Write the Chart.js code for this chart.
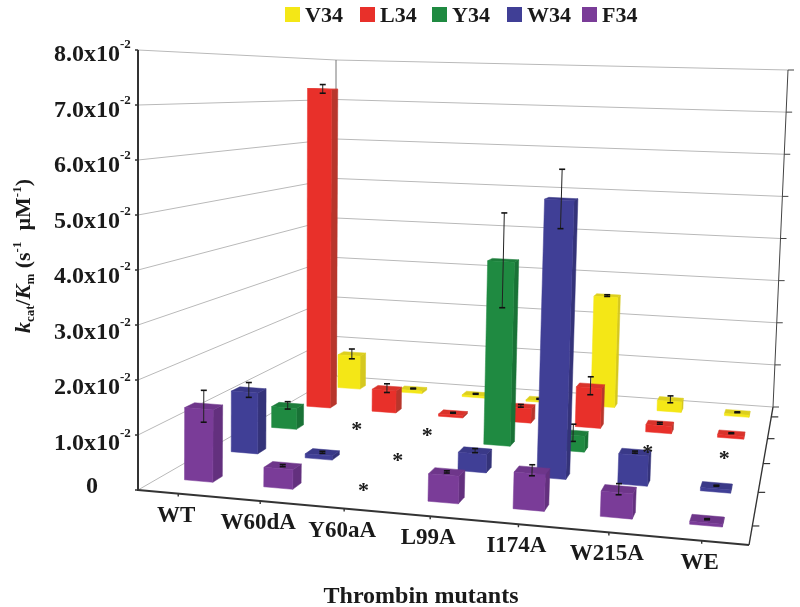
<!DOCTYPE html>
<html>
<head>
<meta charset="utf-8">
<title>Thrombin mutants</title>
<script src="https://cdn.jsdelivr.net/npm/chart.js@4"></script>
<style>
  html, body { margin: 0; padding: 0; background: #fff; }
  canvas { display: block; }
</style>
</head>
<body>
<canvas id="chart" width="800" height="607"></canvas>
<script>
// kcat/Km values in units of 1e-2, null means not measurable (drawn as a star)
const mutants = ["WT", "W60dA", "Y60aA", "L99A", "I174A", "W215A", "WE"];
const seriesNames = ["V34", "L34", "Y34", "W34", "F34"];
const yTickLabels = ["0", "1.0x10", "2.0x10", "3.0x10", "4.0x10", "5.0x10", "6.0x10", "7.0x10", "8.0x10"];

const v34 = [0.80, 0.06, 0.04, 0.03, 2.58, 0.24, 0.05];
const l34 = [7.30, 0.50, 0.05, 0.32, 0.88, 0.16, 0.06];
const y34 = [0.45, null, null, 3.85, 0.33, null, null];
const w34 = [1.22, 0.08, null, 0.36, 5.40, 0.58, 0.06];
const f34 = [1.35, 0.36, null, 0.50, 0.66, 0.45, 0.05];

const v34Err = [0.12, 0.01, 0.01, 0.01, 0.02, 0.08, 0.01];
const l34Err = [0.10, 0.10, 0.01, 0.03, 0.20, 0.02, 0.01];
const y34Err = [0.08, 0, 0, 1.00, 0.18, 0, 0];
const w34Err = [0.15, 0.02, 0, 0.04, 0.58, 0.02, 0.01];
const f34Err = [0.30, 0.02, 0, 0.02, 0.10, 0.10, 0.01];

const frontColors = ["#f4e716", "#e8302a", "#1f8a41", "#403f96", "#7a3c98"];
const sideColors = ["#d5c820", "#b8362c", "#197236", "#343379", "#63307e"];
const topColors = ["#dccf1e", "#d9332b", "#1c7d3b", "#3a3988", "#6e368a"];

// corners of the box in the picture: front-left, front-right, back-right, back-left
const floorQuad = [[138, 490], [749, 545], [773, 407], [336, 376]];
const roofQuad = [[138, 50], [770, 75], [788, 70], [336, 60]];
const barWidth = 0.36;   // share of a category
const barDepth = 0.2;    // share of a series row
const serif = '"Liberation Serif", "Times New Roman", serif';

function makeHomography(q) {
  const [x0, y0] = q[0], [x1, y1] = q[1], [x2, y2] = q[2], [x3, y3] = q[3];
  const sx = x0 - x1 + x2 - x3, sy = y0 - y1 + y2 - y3;
  const dx1 = x1 - x2, dx2 = x3 - x2, dy1 = y1 - y2, dy2 = y3 - y2;
  const den = dx1 * dy2 - dx2 * dy1;
  const g = (sx * dy2 - dx2 * sy) / den, h = (dx1 * sy - sx * dy1) / den;
  const a = x1 - x0 + g * x1, b = x3 - x0 + h * x3, d = y1 - y0 + g * y1, e = y3 - y0 + h * y3;
  return (u, v) => {
    const k = g * u + h * v + 1;
    return [(a * u + b * v + x0) / k, (d * u + e * v + y0) / k, k];
  };
}
const floorAt = makeHomography(floorQuad);
const cornerK = [floorAt(0, 0)[2], floorAt(1, 0)[2], floorAt(1, 1)[2], floorAt(0, 1)[2]];
const rise = roofQuad.map((r, i) => [(r[0] - floorQuad[i][0]) * cornerK[i], (r[1] - floorQuad[i][1]) * cornerK[i]]);

// u along the categories, v into the depth, w up the value axis (all 0..1)
function project(u, v, w) {
  const p = floorAt(u, v);
  const mix = n => (rise[0][n] * (1 - u) + rise[1][n] * u) * (1 - v) + (rise[3][n] * (1 - u) + rise[2][n] * u) * v;
  return [p[0] + mix(0) / p[2] * w, p[1] + mix(1) / p[2] * w];
}
// the scales give the position inside the chart area, the box projects it
function uOf(chart, i) {
  const s = chart.scales.x;
  return (s.getPixelForValue(i) - s.left) / s.width;
}
function vOf(chart, i) {
  const s = chart.scales.depth;
  return (s.bottom - s.getPixelForValue(i)) / s.height;
}
function wOf(chart, value) {
  const s = chart.scales.y;
  return (s.bottom - s.getPixelForValue(value)) / s.height;
}

function fillQuad(ctx, pts, color) {
  ctx.beginPath();
  pts.forEach((p, i) => (i ? ctx.lineTo(p[0], p[1]) : ctx.moveTo(p[0], p[1])));
  ctx.closePath();
  ctx.fillStyle = color;
  ctx.fill();
  ctx.strokeStyle = color;
  ctx.lineWidth = 0.5;
  ctx.stroke();
}
function line(ctx, a, b, color, width) {
  ctx.beginPath();
  ctx.moveTo(a[0], a[1]);
  ctx.lineTo(b[0], b[1]);
  ctx.strokeStyle = color;
  ctx.lineWidth = width;
  ctx.stroke();
}

// Bars drawn as prisms, rows are ordered back to front by dataset.order
class Bar3dController extends Chart.BarController {
  draw() {
    const chart = this.chart, ctx = chart.ctx;
    const v = vOf(chart, this.index);
    const du = barWidth / mutants.length / 2, dv = barDepth / seriesNames.length / 2;
    const ds = this.getDataset();
    ctx.save();
    ds.data.forEach((val, i) => {
      if (val === null) return;
      const u = uOf(chart, i);
      const w = wOf(chart, this.getParsed(i).y);
      const fl = [u - du, v - dv], fr = [u + du, v - dv], bl = [u - du, v + dv], br = [u + du, v + dv];
      fillQuad(ctx, [project(fr[0], fr[1], 0), project(br[0], br[1], 0), project(br[0], br[1], w), project(fr[0], fr[1], w)], ds.sideColor);
      fillQuad(ctx, [project(fl[0], fl[1], w), project(fr[0], fr[1], w), project(br[0], br[1], w), project(bl[0], bl[1], w)], ds.topColor);
      fillQuad(ctx, [project(fl[0], fl[1], 0), project(fr[0], fr[1], 0), project(fr[0], fr[1], w), project(fl[0], fl[1], w)], ds.backgroundColor);
      // error bar
      const err = ds.errors[i];
      const hi = project(u, v, wOf(chart, val + err)), lo = project(u, v, wOf(chart, val - err));
      line(ctx, hi, lo, "#222", 1);
      line(ctx, [hi[0] - 3, hi[1]], [hi[0] + 3, hi[1]], "#111", 1.6);
      line(ctx, [lo[0] - 3, lo[1]], [lo[0] + 3, lo[1]], "#111", 1.6);
    });
    ctx.restore();
  }
}
Bar3dController.id = "bar3d";
Bar3dController.defaults = Chart.BarController.defaults;
Chart.register(Bar3dController);

// draws runs of text along one baseline: [text, font, raise]
function drawRuns(ctx, runs, x, y) {
  runs.forEach(r => {
    ctx.font = r[1];
    ctx.fillText(r[0], x, y - r[2]);
    x += ctx.measureText(r[0]).width;
  });
}

const boxPlugin = {
  id: "box",
  beforeDatasetsDraw(chart) {
    const ctx = chart.ctx;
    ctx.save();
    // walls
    chart.scales.y.ticks.forEach(t => {
      const w = wOf(chart, t.value);
      line(ctx, project(0, 0, w), project(0, 1, w), "#b9b9b9", 1);
      line(ctx, project(0, 1, w), project(1, 1, w), "#b9b9b9", 1);
    });
    line(ctx, project(0, 1, 0), project(0, 1, 1), "#777", 1);
    // axes
    line(ctx, [138, 50], [138, 491], "#333", 2);
    line(ctx, floorQuad[0], floorQuad[1], "#333", 2);
    line(ctx, floorQuad[1], floorQuad[2], "#333", 1.4);
    line(ctx, floorQuad[2], roofQuad[2], "#444", 1);
    chart.scales.y.ticks.forEach(t => {
      const w = wOf(chart, t.value);
      const l = project(0, 0, w), r = project(1, 1, w);
      line(ctx, [l[0] - 3, l[1]], l, "#333", 1.5);
      line(ctx, r, [r[0] + 6, r[1]], "#444", 1);
    });
    mutants.forEach((m, i) => {
      const p = project(uOf(chart, i), 0, 0);
      line(ctx, p, [p[0], p[1] + 3], "#333", 1.4);
    });
    seriesNames.forEach((s, i) => {
      const p = project(1, vOf(chart, i), 0);
      line(ctx, p, [p[0] + 7, p[1]], "#333", 1.2);
    });
    ctx.restore();
  },
  afterDatasetsDraw(chart) {
    const ctx = chart.ctx;
    ctx.save();
    ctx.fillStyle = "#1a1a1a";

    // stars for the values that could not be measured, on top of the bars
    ctx.font = "bold 22px " + serif;
    ctx.textAlign = "center";
    ctx.textBaseline = "middle";
    chart.data.datasets.forEach((ds, row) => {
      ds.data.forEach((val, i) => {
        if (val !== null) return;
        const p = project(uOf(chart, i), vOf(chart, row), 0);
        ctx.fillText("*", p[0], p[1] - 1);
      });
    });

    // y tick labels
    const big = "bold 24px " + serif, small = "bold 13px " + serif;
    ctx.textBaseline = "alphabetic";
    yTickLabels.forEach((label, i) => {
      const y = chart.scales.y.getPixelForValue(i);
      if (i === 0) {
        ctx.textAlign = "center";
        ctx.font = big;
        ctx.fillText(label, 92, y + 3);
        return;
      }
      ctx.textAlign = "left";
      drawRuns(ctx, [[label, big, 0], ["-2", small, 13]], 54, y + 11 + (8 - i) * 0.5);
    });

    // x tick labels follow the front edge
    ctx.textAlign = "center";
    ctx.font = "bold 23px " + serif;
    mutants.forEach((m, i) => {
      const p = project(uOf(chart, i), 0, 0);
      ctx.fillText(m, p[0] - 2, p[1] + 28);
    });

    // axis titles
    ctx.font = "bold 24px " + serif;
    ctx.fillText("Thrombin mutants", 421, 603);
    ctx.save();
    ctx.translate(30, 333);
    ctx.rotate(-Math.PI / 2);
    ctx.textAlign = "left";
    const t = "bold 22px " + serif, ti = "italic bold 22px " + serif, sub = "bold 13px " + serif;
    drawRuns(ctx, [["k", ti, 0], ["cat", sub, -4], ["/", t, 0], ["K", ti, 0], ["m", sub, -4],
      [" (s", t, 0], ["-1", sub, 9], ["  µM", t, 0], ["-1", sub, 9], [")", t, 0]], 0, 0);
    ctx.restore();

    // legend
    const legendX = [285, 360, 432, 507, 582];
    ctx.textAlign = "left";
    ctx.font = "bold 22px " + serif;
    seriesNames.forEach((s, i) => {
      ctx.fillStyle = frontColors[i];
      ctx.fillRect(legendX[i], 7, 15, 15);
      ctx.fillStyle = "#1a1a1a";
      ctx.fillText(s, legendX[i] + 20, 22);
    });
    ctx.restore();
  }
};

const allValues = [v34, l34, y34, w34, f34];
const allErrors = [v34Err, l34Err, y34Err, w34Err, f34Err];

new Chart(document.getElementById("chart"), {
  type: "bar3d",
  data: {
    labels: mutants,
    datasets: seriesNames.map((name, i) => ({
      label: name,
      data: allValues[i],
      errors: allErrors[i],
      backgroundColor: frontColors[i],
      sideColor: sideColors[i],
      topColor: topColors[i],
      clip: false,
      order: seriesNames.length - i
    }))
  },
  plugins: [boxPlugin],
  options: {
    responsive: false,
    animation: false,
    layout: { padding: { left: 138, right: 51, top: 50, bottom: 117 } },
    plugins: { legend: { display: false }, tooltip: { enabled: false } },
    scales: {
      x: { type: "category", display: false, offset: true },
      y: { type: "linear", display: false, min: 0, max: 8, ticks: { stepSize: 1 } },
      depth: { type: "category", axis: "y", display: false, offset: true, labels: seriesNames }
    }
  }
});
</script>
</body>
</html>
